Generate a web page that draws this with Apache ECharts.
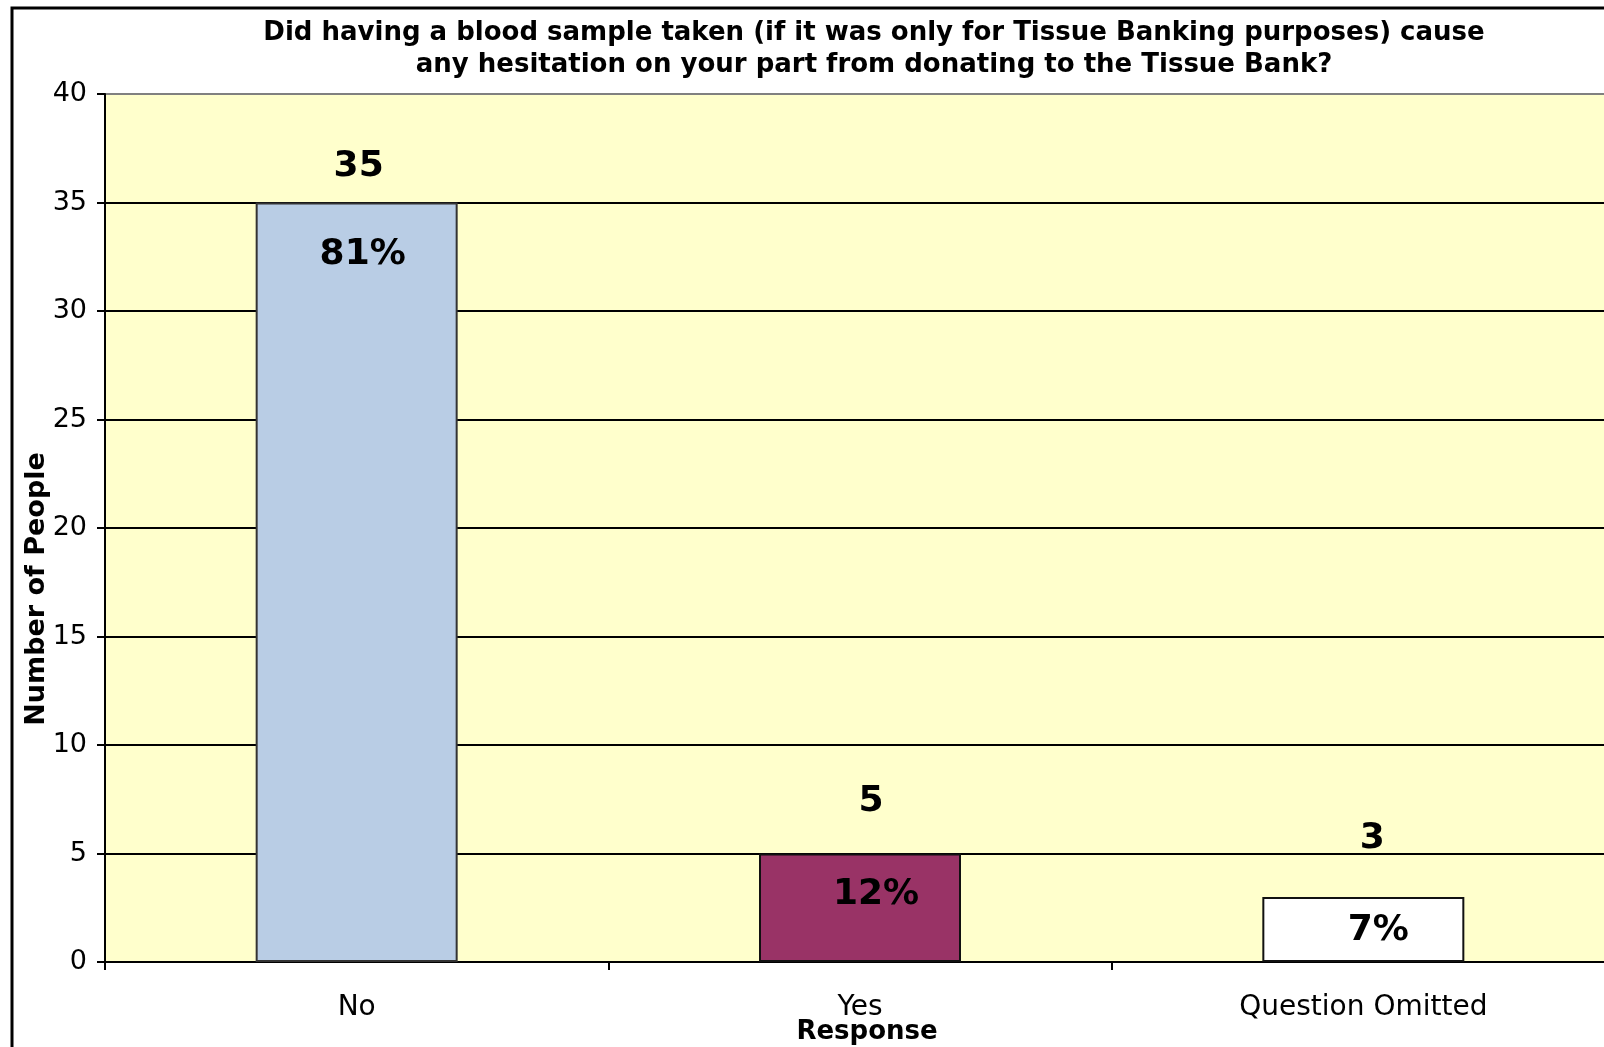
<!DOCTYPE html>
<html>
<head>
<meta charset="utf-8">
<script src="https://cdn.jsdelivr.net/npm/echarts@6/dist/echarts.min.js"></script>
<style>
html,body{margin:0;padding:0;background:#fff;}
#chart{width:1604px;height:1047px;}
</style>
</head>
<body>
<div id="chart"></div>
<script>
const titleText = 'Did having a blood sample taken (if it was only for Tissue Banking purposes) cause\nany hesitation on your part from donating to the Tissue Bank?';
const categories = ['No', 'Yes', 'Question Omitted'];
const counts = [35, 5, 3];
const percents = ['81%', '12%', '7%'];
const yTicks = [0, 5, 10, 15, 20, 25, 30, 35, 40];
const xAxisName = 'Response';
const yAxisName = 'Number of People';

const FONT = 'DejaVu Sans';
const barColors = ['#B9CDE5', '#993366', '#FFFFFF'];
const borderColors = ['#333333', '#111111', '#111111'];
// per-bar label placement (style only)
const valueLabelStyle = [{distance: 18, offset: [2, 0]}, {distance: 34, offset: [11, 0]}, {distance: 40, offset: [9, 0]}];
const pctLabelStyle = [{distance: 34, offset: [6, 0]}, {distance: 23, offset: [16, 0]}, {distance: 16, offset: [15, 0]}];

const chart = echarts.init(document.getElementById('chart'), null, {renderer: 'canvas'});

const gridLineColors = yTicks.map((t, i) => i === yTicks.length - 1 ? '#808080' : '#000000');

const option = {
  backgroundColor: '#FFFFFF',
  animation: false,
  title: {
    text: titleText,
    left: 869,
    textAlign: 'center',
    top: 12,
    textStyle: {fontFamily: FONT, fontSize: 26, fontWeight: 'bold', color: '#000', lineHeight: 32}
  },
  grid: {
    left: 105, top: 94, right: -11, height: 868,
    outerBoundsMode: 'none', containLabel: false,
    show: true, backgroundColor: '#FFFFCC', borderWidth: 0
  },
  xAxis: {
    type: 'category',
    data: categories,
    axisLine: {show: true, lineStyle: {color: '#000', width: 2}},
    axisTick: {show: true, alignWithLabel: false, length: 8, lineStyle: {color: '#000', width: 2}},
    axisLabel: {fontFamily: FONT, fontSize: 28, color: '#000', margin: 32},
    splitLine: {show: false}
  },
  yAxis: {
    type: 'value',
    min: yTicks[0], max: yTicks[yTicks.length - 1], interval: 5,
    axisLine: {show: true, lineStyle: {color: '#000', width: 2}},
    axisTick: {show: true, length: 8, lineStyle: {color: '#000', width: 2}},
    axisLabel: {fontFamily: FONT, fontSize: 27, color: '#000', margin: 18},
    splitLine: {show: true, lineStyle: {color: gridLineColors, width: 2}}
  },
  series: [
    {
      type: 'bar',
      barWidth: 202,
      barGap: '-100%',
      z: 2,
      data: counts.map((v, i) => ({
        value: v,
        itemStyle: {color: barColors[i], borderColor: borderColors[i], borderWidth: 2},
        label: valueLabelStyle[i]
      })),
      label: {
        show: true, position: 'top',
        fontFamily: FONT, fontSize: 36, fontWeight: 'bold', color: '#000'
      }
    },
    {
      type: 'bar',
      barWidth: 202,
      barGap: '-100%',
      z: 3,
      silent: true,
      data: counts.map((v, i) => ({value: v, label: pctLabelStyle[i]})),
      itemStyle: {color: 'rgba(0,0,0,0)'},
      label: {
        show: true, position: 'insideTop',
        fontFamily: FONT, fontSize: 36, fontWeight: 'bold', color: '#000',
        formatter: p => percents[p.dataIndex]
      }
    }
  ],
  graphic: [
    {
      type: 'rect', silent: true, z: 100,
      shape: {x: 12, y: 8, width: 1800, height: 1200},
      style: {fill: 'none', stroke: '#000', lineWidth: 3}
    },
    {
      type: 'text', z: 100,
      x: 867, y: 1032,
      style: {text: xAxisName, fontFamily: FONT, fontSize: 26, fontWeight: 'bold', fill: '#000',
              textAlign: 'center', textVerticalAlign: 'middle'}
    },
    {
      type: 'text', z: 100,
      x: 37, y: 589, rotation: Math.PI / 2,
      style: {text: yAxisName, fontFamily: FONT, fontSize: 27, fontWeight: 'bold', fill: '#000',
              textAlign: 'center', textVerticalAlign: 'middle'}
    }
  ]
};
chart.setOption(option);
</script>
</body>
</html>
